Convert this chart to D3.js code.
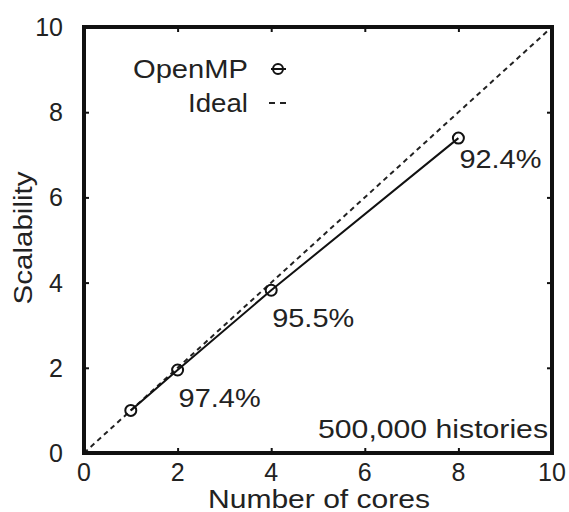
<!DOCTYPE html>
<html>
<head>
<meta charset="utf-8">
<script src="https://cdn.jsdelivr.net/npm/d3@7"></script>
<style>
  body { margin: 0; background: #fff; }
  text { font-family: "Liberation Sans", Arial, sans-serif; fill: #222; font-size: 25px; }
</style>
</head>
<body>
<svg id="chart" width="569" height="512"></svg>
<script>
// data
const cores = [1, 2, 4, 8];
const scalability = [1, 1.948, 3.82, 7.392];
const efficiency = ["", "97.4%", "95.5%", "92.4%"];
const idealCores = [0, 10];
const ticks = [0, 2, 4, 6, 8, 10];

const svg = d3.select('#chart');
const plotLeft = 84, plotRight = 552, plotTop = 27, plotBottom = 453;

const x = d3.scaleLinear().domain([0, 10]).range([plotLeft, plotRight]);
const y = d3.scaleLinear().domain([0, 10]).range([plotBottom, plotTop]);

// stretch a text to a given width, the source glyphs are wide
function stretched(sel, w) {
  return sel.attr('textLength', w).attr('lengthAdjust', 'spacingAndGlyphs');
}

// tick marks on all four sides (inward)
const g = svg.append('g');
g.append('g').attr('transform', `translate(0,${plotBottom})`)
  .call(d3.axisBottom(x).tickValues(ticks).tickSize(-5).tickFormat(''));
g.append('g').attr('transform', `translate(0,${plotTop})`)
  .call(d3.axisTop(x).tickValues(ticks).tickSize(-5).tickFormat(''));
g.append('g').attr('transform', `translate(${plotLeft},0)`)
  .call(d3.axisLeft(y).tickValues(ticks).tickSize(-5).tickFormat(''));
g.append('g').attr('transform', `translate(${plotRight},0)`)
  .call(d3.axisRight(y).tickValues(ticks).tickSize(-5).tickFormat(''));
g.selectAll('.domain').remove();
g.selectAll('.tick line').attr('stroke', '#111').attr('stroke-width', 2);

// tick labels
svg.append('g').selectAll('text').data(ticks).enter().append('text')
  .attr('x', d => x(d)).attr('y', plotBottom + 28)
  .attr('text-anchor', 'middle').attr('font-size', 24).text(d => d);
svg.append('g').selectAll('text').data(ticks).enter().append('text')
  .attr('x', plotLeft - 21).attr('y', d => y(d) + 9)
  .attr('text-anchor', 'end').attr('font-size', 24).text(d => d);

// ideal line
svg.append('path')
  .datum(idealCores)
  .attr('fill', 'none')
  .attr('stroke', '#222')
  .attr('stroke-width', 2)
  .attr('stroke-dasharray', '5,4')
  .attr('d', d3.line().x(d => x(d)).y(d => y(d)));

// openmp line
const pts = cores.map((c, i) => ({ c: c, s: scalability[i], e: efficiency[i] }));
svg.append('path')
  .datum(pts)
  .attr('fill', 'none')
  .attr('stroke', '#111')
  .attr('stroke-width', 2)
  .attr('d', d3.line().x(d => x(d.c)).y(d => y(d.s)));

svg.append('g').selectAll('circle').data(pts).enter().append('circle')
  .attr('cx', d => x(d.c)).attr('cy', d => y(d.s)).attr('r', 5.5)
  .attr('fill', 'none').attr('stroke', '#111').attr('stroke-width', 2);

// efficiency labels under the points
const labelDy = [0, 37, 37, 30];
svg.append('g').selectAll('text').data(pts.filter(d => d.e)).enter().append('text')
  .attr('x', d => x(d.c) + 1).attr('y', (d, i) => y(d.s) + labelDy[i + 1])
  .attr('font-size', 25).attr('textLength', 82).attr('lengthAdjust', 'spacingAndGlyphs')
  .text(d => d.e);

// frame
svg.append('rect')
  .attr('x', plotLeft).attr('y', plotTop)
  .attr('width', plotRight - plotLeft).attr('height', plotBottom - plotTop)
  .attr('fill', 'none').attr('stroke', '#111').attr('stroke-width', 4);

// legend
stretched(svg.append('text').attr('x', 248).attr('y', 78).attr('text-anchor', 'end')
  .text('OpenMP'), 115);
svg.append('line').attr('x1', 271).attr('x2', 286).attr('y1', 69).attr('y2', 69)
  .attr('stroke', '#111').attr('stroke-width', 2);
svg.append('circle').attr('cx', 278).attr('cy', 69).attr('r', 5)
  .attr('fill', 'none').attr('stroke', '#111').attr('stroke-width', 2);
stretched(svg.append('text').attr('x', 248).attr('y', 112).attr('text-anchor', 'end')
  .text('Ideal'), 60);
svg.append('line').attr('x1', 269).attr('x2', 287).attr('y1', 103).attr('y2', 103)
  .attr('stroke', '#222').attr('stroke-width', 2).attr('stroke-dasharray', '6,5');

// note
stretched(svg.append('text').attr('x', 548).attr('y', 438).attr('text-anchor', 'end')
  .text('500,000 histories'), 230);

// axis titles
stretched(svg.append('text').attr('x', 319).attr('y', 508).attr('text-anchor', 'middle')
  .attr('font-size', 24).text('Number of cores'), 222);
stretched(svg.append('text').attr('transform', 'translate(32,238) rotate(-90)')
  .attr('text-anchor', 'middle').text('Scalability'), 133);
</script>
</body>
</html>
